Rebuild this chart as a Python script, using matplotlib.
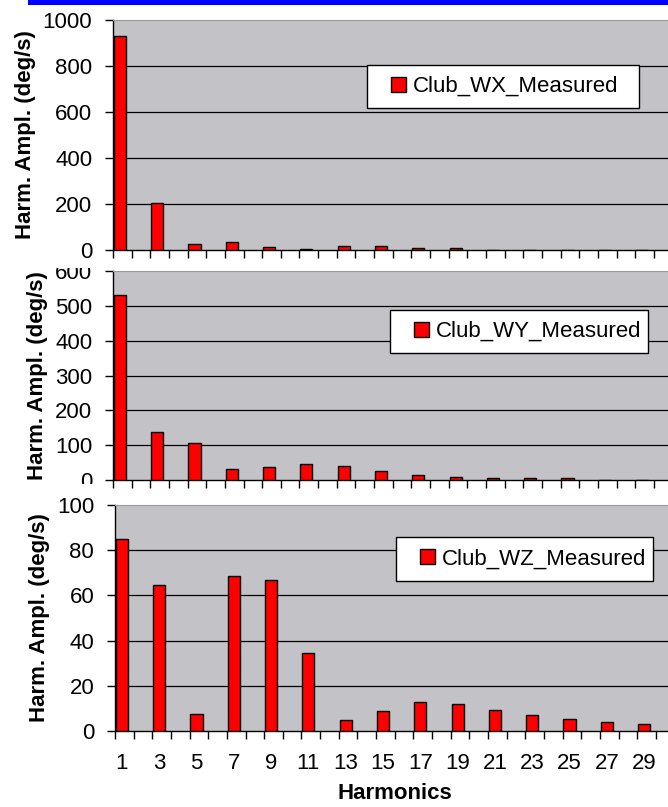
import numpy as np
import matplotlib.pyplot as plt
from matplotlib.patches import Rectangle
from matplotlib.legend_handler import HandlerPatch

plt.rcParams['font.family'] = ['Liberation Sans', 'DejaVu Sans']

# harmonic numbers (odd only, evens are empty categories)
harmonics = [1, 3, 5, 7, 9, 11, 13, 15, 17, 19, 21, 23, 25, 27, 29]
wx = [930, 203, 25, 33, 15, 6, 17, 17, 7, 7, 0, 0, 0, 0, 0]
wy = [532, 138, 107, 31, 36, 46, 40, 26, 14, 9, 5, 5, 5, 0, 0]
wz = [85, 64.4, 7.7, 68.4, 66.9, 34.6, 4.7, 8.7, 12.7, 11.8, 9.5, 6.9, 5.5, 3.8, 3.0]
names = ["Club_WX_Measured", "Club_WY_Measured", "Club_WZ_Measured"]
ymax = [1000, 600, 100]
ystep = [200, 100, 20]

W, H = 668, 807
fig = plt.figure(figsize=(W / 100, H / 100), dpi=100)

# panel boxes in pixels: left, top, bottom
boxes = [(113, 20, 250), (113, 271, 480), (115, 505, 731)]
# legend boxes in pixels: x0, y0, x1, y1
leg_boxes = [(367, 62, 639, 111), (390, 306, 648, 357), (396, 533, 653, 585)]
cat_w = 18.65


def right_square(legend, orig_handle, xdescent, ydescent, width, height, fontsize):
    s = 0.68 * fontsize
    return Rectangle((-xdescent + width - s, -ydescent + (height - s) / 2), s, s)


for i, vals in enumerate([wx, wy, wz]):
    left, top, bot = boxes[i]
    ax = fig.add_axes([left / W, 1 - bot / H, 30 * cat_w / W, (bot - top) / H])
    ax.set_facecolor('#c3c2c6')
    bars = ax.bar(harmonics, vals, width=0.65, color='#ff0000', edgecolor='black', linewidth=1.0, zorder=3)
    ax.set_xlim(0.63, 30.63)
    ax.set_ylim(0, ymax[i])
    ax.set_yticks(np.arange(0, ymax[i] + 1, ystep[i]))
    ax.yaxis.grid(True, color='black', lw=0.9)
    ax.get_ygridlines()[-1].set_visible(False)
    ax.get_ygridlines()[0].set_visible(False)
    ax.set_axisbelow(True)

    # category boundary ticks
    ax.set_xticks(np.arange(0.63, 30.7, 1))
    ax.set_xticklabels([])
    ax.tick_params(axis='x', which='major', direction='out', length=6, width=1, color='black')
    ax.set_xticks(harmonics, minor=True)
    if i == 2:
        ax.set_xticklabels([str(h) for h in harmonics], minor=True, fontsize=16)
        ax.set_xlabel("Harmonics", fontsize=16, fontweight='bold', labelpad=6)
    ax.tick_params(axis='x', which='minor', length=0, pad=16)
    ax.tick_params(axis='y', direction='out', length=6, width=1, labelsize=16, pad=9)
    ax.set_ylabel("Harm. Ampl. (deg/s)", fontsize=16, fontweight='bold', labelpad=5)

    ax.spines['right'].set_visible(False)
    ax.spines['top'].set_color('#9a9a9a')
    ax.spines['left'].set_linewidth(1)
    ax.spines['bottom'].set_linewidth(1)

    x0, y0, x1, y1 = leg_boxes[i]
    leg = ax.legend([bars[0]], [names[i]], loc='center', mode='expand',
                    bbox_to_anchor=(x0 / W, 1 - y1 / H, (x1 - x0) / W, (y1 - y0) / H),
                    bbox_transform=fig.transFigure, borderaxespad=0, borderpad=0.5,
                    handlelength=1.25, handletextpad=0.3, fontsize=16,
                    fancybox=False, framealpha=1, edgecolor='black',
                    handler_map={Rectangle: HandlerPatch(patch_func=right_square)})
    leg.get_frame().set_linewidth(1.0)

# chart areas overlapping the neighbouring labels
fig.patches.append(Rectangle((0, 1 - 268 / H), 110 / W, 8 / H, transform=fig.transFigure,
                             facecolor='white', edgecolor='none', zorder=5))
fig.patches.append(Rectangle((0, 1 - 495 / H), 110 / W, 11 / H, transform=fig.transFigure,
                             facecolor='white', edgecolor='none', zorder=5))
# blue strip at the top
fig.patches.append(Rectangle((28 / W, 1 - 5 / H), 1 - 28 / W, 5 / H, transform=fig.transFigure,
                             facecolor='#0000ff', edgecolor='none', zorder=5))

fig.savefig("out.png", dpi=100)
